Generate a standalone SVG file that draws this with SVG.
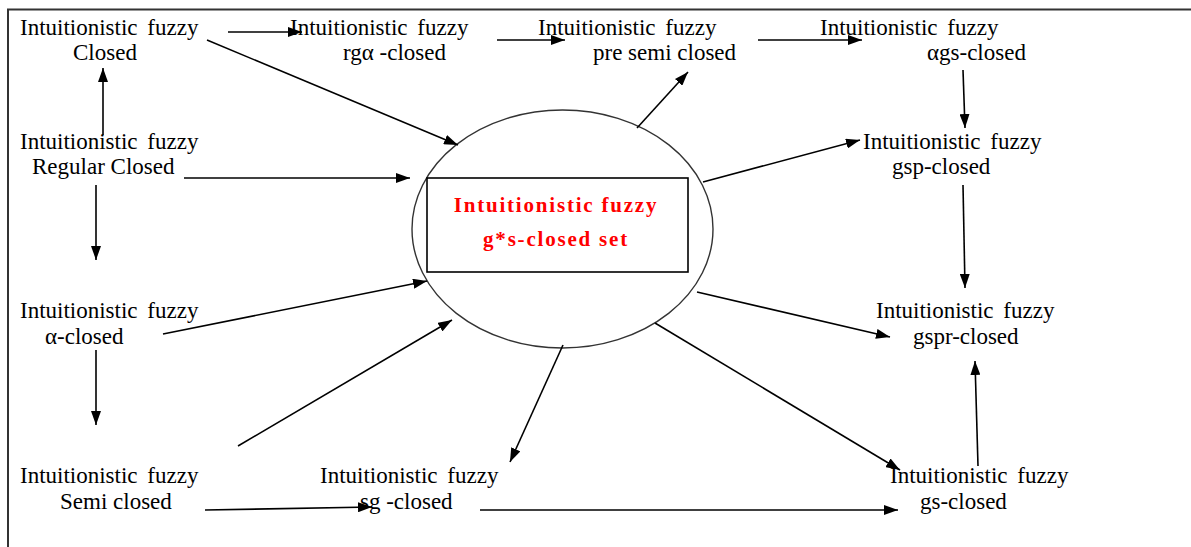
<svg xmlns="http://www.w3.org/2000/svg" width="1191" height="547" viewBox="0 0 1191 547">
<style>
.t{font-family:"Liberation Serif","Times New Roman",serif;font-size:23px;fill:#000;}
.w{word-spacing:4px;}
.c{fill:none;stroke:#000;stroke-width:1.6;marker-end:url(#ah);}
.r{font-family:"Liberation Serif","Times New Roman",serif;font-size:21px;font-weight:bold;fill:#ff0000;letter-spacing:1.8px;}
</style>
<defs>
<marker id="ah" markerUnits="userSpaceOnUse" markerWidth="14" markerHeight="10" refX="14" refY="5" orient="auto">
<path d="M0,0 L14,5 L0,10 z" fill="#000"/>
</marker>
</defs>
<rect width="1191" height="547" fill="#fff"/>
<path d="M8,547 V9.5 H1191" fill="none" stroke="#333" stroke-width="2"/>

<g id="center">
<ellipse cx="562.5" cy="229" rx="150.5" ry="119" fill="none" stroke="#333" stroke-width="1.4"/>
<rect x="427" y="178" width="261" height="94" fill="none" stroke="#000" stroke-width="1.6"/>
<text class="r" x="556" y="212" text-anchor="middle">Intuitionistic fuzzy</text>
<text class="r" x="556" y="246" text-anchor="middle">g*s-closed set</text>
</g>

<g id="n-closed"><text class="t w" x="20" y="35">Intuitionistic fuzzy</text><text class="t" x="73" y="60">Closed</text></g>
<g id="n-rga"><text class="t w" x="290" y="35">Intuitionistic fuzzy</text><text class="t" x="343" y="60">rgα -closed</text></g>
<g id="n-presemi"><text class="t w" x="538" y="35">Intuitionistic fuzzy</text><text class="t" x="593" y="60">pre semi closed</text></g>
<g id="n-ags"><text class="t w" x="820" y="35">Intuitionistic fuzzy</text><text class="t" x="927" y="60">αgs-closed</text></g>
<g id="n-gsp"><text class="t w" x="863" y="149">Intuitionistic fuzzy</text><text class="t" x="892" y="174">gsp-closed</text></g>
<g id="n-regular"><text class="t w" x="20" y="149">Intuitionistic fuzzy</text><text class="t" x="32" y="174">Regular Closed</text></g>
<g id="n-alpha"><text class="t w" x="20" y="318">Intuitionistic fuzzy</text><text class="t" x="45" y="344">α-closed</text></g>
<g id="n-gspr"><text class="t w" x="876" y="318">Intuitionistic fuzzy</text><text class="t" x="913" y="344">gspr-closed</text></g>
<g id="n-semi"><text class="t w" x="20" y="483">Intuitionistic fuzzy</text><text class="t" x="60" y="509">Semi closed</text></g>
<g id="n-sg"><text class="t w" x="320" y="483">Intuitionistic fuzzy</text><text class="t" x="360" y="509">sg -closed</text></g>
<g id="n-gs"><text class="t w" x="890" y="483">Intuitionistic fuzzy</text><text class="t" x="920" y="509">gs-closed</text></g>

<g id="connectors">
<line class="c" x1="228" y1="32" x2="302" y2="32"/>
<line class="c" x1="497" y1="40" x2="565" y2="40"/>
<line class="c" x1="758" y1="40" x2="862" y2="40"/>
<line class="c" x1="207" y1="40" x2="458" y2="145"/>
<line class="c" x1="103" y1="135" x2="103" y2="68"/>
<line class="c" x1="184" y1="178" x2="410" y2="178"/>
<line class="c" x1="96" y1="185" x2="96" y2="260"/>
<line class="c" x1="163" y1="334" x2="427" y2="281"/>
<line class="c" x1="96" y1="350" x2="96" y2="425"/>
<line class="c" x1="238" y1="446" x2="452" y2="320"/>
<line class="c" x1="205" y1="510" x2="372" y2="507"/>
<line class="c" x1="563" y1="345" x2="510" y2="462"/>
<line class="c" x1="480" y1="510" x2="898" y2="510"/>
<line class="c" x1="655" y1="323" x2="900" y2="470"/>
<line class="c" x1="697" y1="292" x2="890" y2="337"/>
<line class="c" x1="703" y1="182" x2="860" y2="140"/>
<line class="c" x1="637" y1="128" x2="688" y2="72"/>
<line class="c" x1="963" y1="70" x2="965" y2="128"/>
<line class="c" x1="963" y1="185" x2="965" y2="288"/>
<line class="c" x1="978" y1="466" x2="975" y2="361"/>
</g>
</svg>
